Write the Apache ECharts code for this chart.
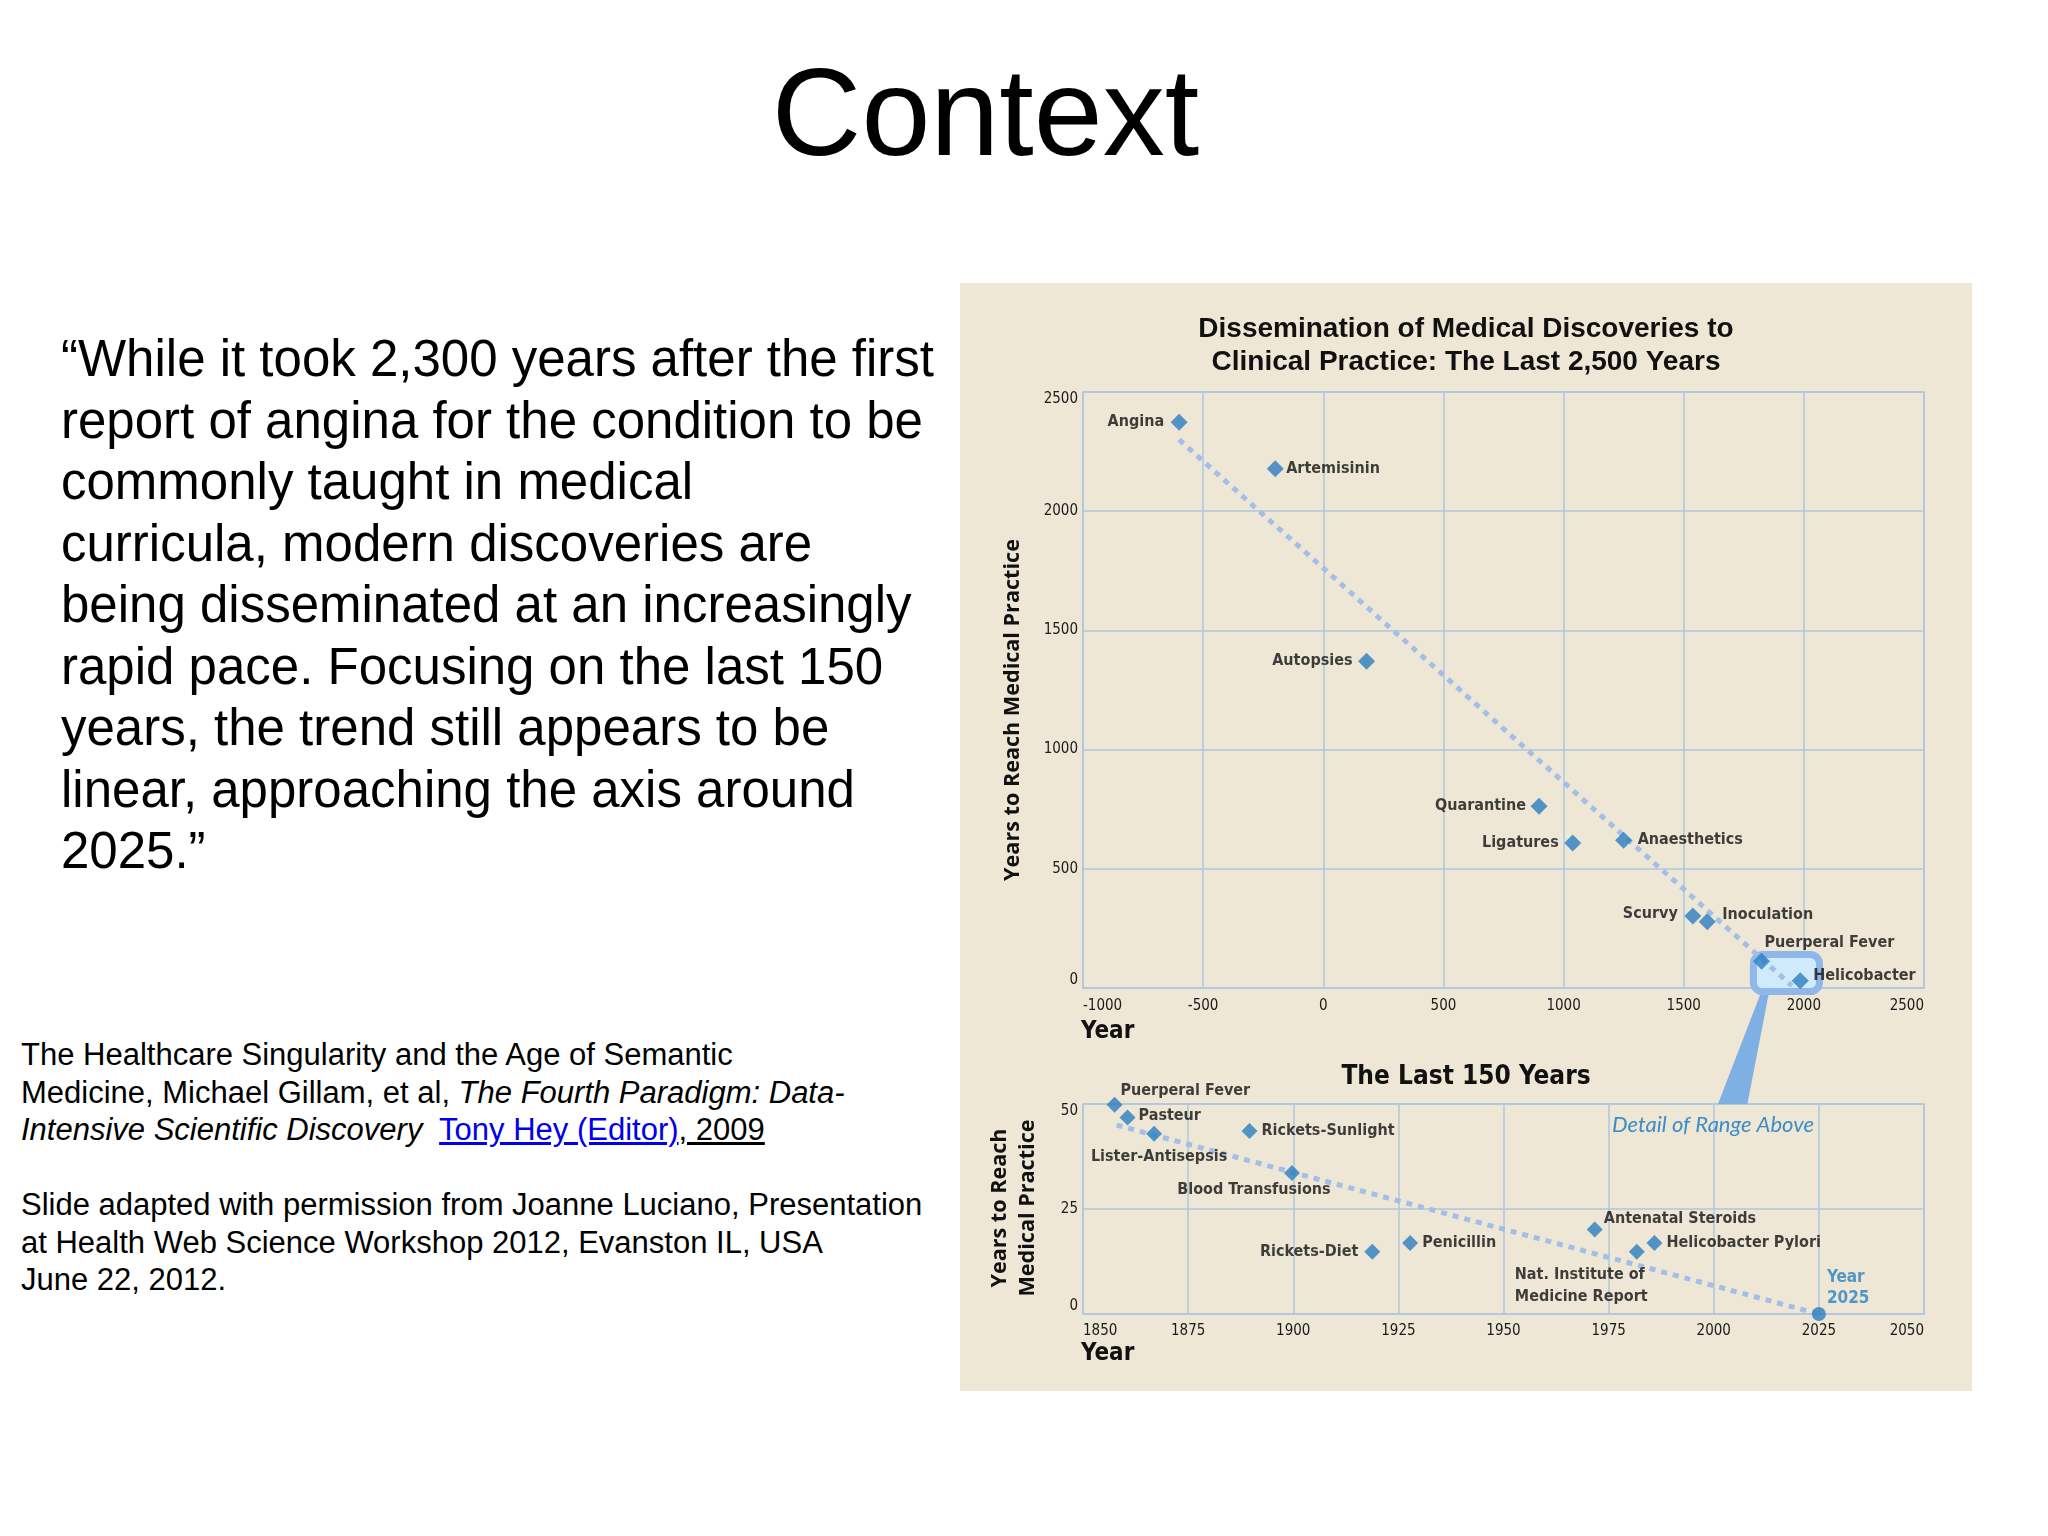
<!DOCTYPE html>
<html>
<head>
<meta charset="utf-8">
<script src="https://cdn.jsdelivr.net/npm/echarts@6/dist/echarts.min.js"></script>
<style>
  html, body { margin:0; padding:0; background:#ffffff; }
  body { width:2048px; height:1536px; position:relative; overflow:hidden; font-family:'Liberation Sans', Arial, sans-serif; color:#000; }
  #title { position:absolute; left:0; top:50px; width:1971px; text-align:center; font-size:124px; line-height:124px; }
  #quote { position:absolute; left:61px; top:328px; font-size:51px; line-height:61.5px; white-space:nowrap; }
  #cite { position:absolute; left:21px; top:1036px; font-size:31px; line-height:37.5px; white-space:nowrap; }
  #cite a { color:#0000ee; text-decoration:underline; }
  #cite .u { text-decoration:underline; }
  #chart { position:absolute; left:960px; top:283px; width:1012px; height:1108px; background:#eee7d6; }
</style>
</head>
<body>
<div id="title">Context</div>
<div id="quote">“While it took 2,300 years after the first<br>report of angina for the condition to be<br>commonly taught in medical<br>curricula, modern discoveries are<br>being disseminated at an increasingly<br>rapid pace. Focusing on the last 150<br>years, the trend still appears to be<br>linear, approaching the axis around<br>2025.”</div>
<div id="cite">The Healthcare Singularity and the Age of Semantic<br>Medicine, Michael Gillam, et al, <i>The Fourth Paradigm: Data-<br>Intensive Scientific Discovery</i>&nbsp; <a>Tony Hey (Editor)</a><span class="u">, 2009</span><br><br>Slide adapted with permission from Joanne Luciano, Presentation<br>at Health Web Science Workshop 2012, Evanston IL, USA<br>June 22, 2012.</div>
<div id="chart"></div>
<script>
// ---- data ----
var topNames = ['Angina','Artemisinin','Autopsies','Quarantine','Ligatures','Anaesthetics','Scurvy','Inoculation','Puerperal Fever','Helicobacter'];
var topYears = [-600, -200, 180, 898, 1038, 1250, 1538, 1598, 1824, 1985];
var topLag   = [2373, 2178, 1371, 762, 608, 620, 302, 278, 112, 30];
var topTrend = [[-600, 2300], [1950, 10]];
var topXTicks = [-1000, 2500, 500];
var topYTicks = [0, 2500, 500];
var highlightRange = [[1790, 2065], [-15, 140]];

var botNames = ['Puerperal Fever','Pasteur','Lister-Antisepsis','Rickets-Sunlight','Blood Transfusions','Rickets-Diet','Penicillin','Antenatal Steroids','Nat. Institute of\nMedicine Report','Helicobacter Pylori'];
var botYears = [1857.5, 1860.6, 1866.9, 1889.6, 1899.7, 1918.8, 1927.8, 1971.7, 1981.7, 1985.9];
var botLag   = [49.8, 46.8, 42.9, 43.6, 33.6, 14.8, 16.9, 20.1, 14.8, 16.9];
var botTrend = [[1858, 45], [2025, 0]];
var targetPoint = [[2025, 0]];
var targetLabel = 'Year\n2025';
var botXTicks = [1850, 2050, 25];
var botYTicks = [0, 50, 25];
var calloutTop = [[1822, -18], [1855, -18]];
var calloutBottom = [[2008, 50], [2001, 50]];

// ---- styles / label placement ----
var NARROW = "'Liberation Sans Narrow', 'Arial Narrow', 'DejaVu Sans Condensed', 'Roboto', sans-serif";
var gridColor = '#afc6dc';
var markColor = '#2a7ebf';
var trendColor = '#a3bee8';
// [dx, dy, align] relative to symbol centre
var topPlace = {
  'Angina':[-15,0,'right'], 'Artemisinin':[11,0,'left'], 'Autopsies':[-14,0,'right'],
  'Quarantine':[-13,0,'right'], 'Ligatures':[-14,0,'right'], 'Anaesthetics':[14,0,'left'],
  'Scurvy':[-15,-2,'right'], 'Inoculation':[15,-7,'left'], 'Puerperal Fever':[3,-18,'left'],
  'Helicobacter':[13,-5,'left']
};
var botPlace = {
  'Puerperal Fever':[6,-14,'left'], 'Pasteur':[11,-2,'left'], 'Lister-Antisepsis':[5,23,'center'],
  'Rickets-Sunlight':[12,0,'left'], 'Blood Transfusions':[-38,17,'center'], 'Rickets-Diet':[-14,0,'right'],
  'Penicillin':[12,0,'left'], 'Antenatal Steroids':[9,-11,'left'], 'Nat. Institute of\nMedicine Report':[-122,34,'left'],
  'Helicobacter Pylori':[12,0,'left']
};

function pts(names, xs, ys, place, size) {
  return names.map(function (n, i) {
    var p = place[n];
    var c = size / 2;
    return {
      name: n, value: [xs[i], ys[i]],
      label: { position: [c + p[0], c + p[1]], align: p[2] }
    };
  });
}

function axisLabelStyle(margin) {
  return { fontFamily: NARROW, fontSize: 15, color: '#1a1a1a', margin: margin,
    formatter: function (v) { return String(v); } };
}

var chart = echarts.init(document.getElementById('chart'), null, { renderer: 'canvas' });

var labelBase = {
  show: true, formatter: '{b}', fontFamily: NARROW, fontWeight: 'bold', fontSize: 16,
  color: '#111', verticalAlign: 'middle', lineHeight: 22, textBorderWidth: 0
};

var option = {
  animation: false,
  backgroundColor: 'transparent',
  grid: [
    { left: 123, top: 109, width: 841, height: 596, show: true, borderColor: gridColor, borderWidth: 1.5 },
    { left: 123, top: 821, width: 841, height: 210, show: true, borderColor: gridColor, borderWidth: 1.5 }
  ],
  xAxis: [
    { gridIndex: 0, type: 'value', min: topXTicks[0], max: topXTicks[1], interval: topXTicks[2],
      axisLine: { show: false }, axisTick: { show: false },
      splitLine: { show: true, lineStyle: { color: gridColor, width: 1.5 } },
      axisLabel: Object.assign(axisLabelStyle(11), { alignMinLabel: 'left', alignMaxLabel: 'right' }) },
    { gridIndex: 1, type: 'value', min: botXTicks[0], max: botXTicks[1], interval: botXTicks[2],
      axisLine: { show: false }, axisTick: { show: false },
      splitLine: { show: true, lineStyle: { color: gridColor, width: 1.5 } },
      axisLabel: Object.assign(axisLabelStyle(10), { alignMinLabel: 'left', alignMaxLabel: 'right' }) }
  ],
  yAxis: [
    { gridIndex: 0, type: 'value', min: topYTicks[0], max: topYTicks[1], interval: topYTicks[2],
      axisLine: { show: false }, axisTick: { show: false },
      splitLine: { show: true, lineStyle: { color: gridColor, width: 1.5 } },
      axisLabel: Object.assign(axisLabelStyle(5), { verticalAlignMinLabel: 'bottom', verticalAlignMaxLabel: 'top' }) },
    { gridIndex: 1, type: 'value', min: botYTicks[0], max: botYTicks[1], interval: botYTicks[2],
      axisLine: { show: false }, axisTick: { show: false },
      splitLine: { show: true, lineStyle: { color: gridColor, width: 1.5 } },
      axisLabel: Object.assign(axisLabelStyle(5), { verticalAlignMinLabel: 'bottom', verticalAlignMaxLabel: 'top' }) }
  ],
  series: [
    { type: 'custom', xAxisIndex: 0, yAxisIndex: 0, z: 1, clip: false,
      data: [[highlightRange[0][0], highlightRange[0][1], highlightRange[1][0], highlightRange[1][1]]],
      renderItem: function (params, api) {
        var a = api.coord([api.value(0), api.value(3)]);
        var b = api.coord([api.value(1), api.value(2)]);
        return { type: 'rect', shape: { x: a[0], y: a[1], width: b[0] - a[0], height: b[1] - a[1], r: 9 },
          style: { fill: '#cfeafb', stroke: '#8fb7e8', lineWidth: 7 } };
      } },
    { type: 'line', xAxisIndex: 0, yAxisIndex: 0, z: 2, data: topTrend, symbol: 'none', silent: true,
      lineStyle: { color: trendColor, width: 5, type: [6, 6], cap: 'butt' } },
    { type: 'scatter', xAxisIndex: 0, yAxisIndex: 0, z: 3, symbol: 'diamond', symbolSize: 17,
      itemStyle: { color: markColor },
      label: labelBase,
      data: pts(topNames, topYears, topLag, topPlace, 17) },
    { type: 'line', xAxisIndex: 1, yAxisIndex: 1, z: 2, data: botTrend, symbol: 'none', silent: true,
      lineStyle: { color: trendColor, width: 5, type: [6, 6], cap: 'butt' } },
    { type: 'scatter', xAxisIndex: 1, yAxisIndex: 1, z: 3, symbol: 'diamond', symbolSize: 16,
      itemStyle: { color: markColor },
      label: labelBase,
      data: pts(botNames, botYears, botLag, botPlace, 16) },
    { type: 'scatter', xAxisIndex: 1, yAxisIndex: 1, z: 3, symbol: 'circle', symbolSize: 14, clip: false,
      itemStyle: { color: markColor },
      label: Object.assign({}, labelBase, { formatter: targetLabel, color: '#2b82c2', fontSize: 17, position: [15, -19], align: 'left', lineHeight: 21 }),
      data: targetPoint }
  ]
};
chart.setOption(option);

// decorations positioned through the axes' scales
var t0 = chart.convertToPixel({ xAxisIndex: 0, yAxisIndex: 0 }, calloutTop[0]);
var t1 = chart.convertToPixel({ xAxisIndex: 0, yAxisIndex: 0 }, calloutTop[1]);
var b0 = chart.convertToPixel({ xAxisIndex: 1, yAxisIndex: 1 }, calloutBottom[0]);
var b1 = chart.convertToPixel({ xAxisIndex: 1, yAxisIndex: 1 }, calloutBottom[1]);

chart.setOption({
  graphic: [
    { type: 'polygon', z: 0, shape: { points: [t0, t1, b0, b1] }, style: { fill: '#7fb0e4' } },
    { type: 'text', x: 506, y: 63, z: 10, style: { text: 'Dissemination of Medical Discoveries to\nClinical Practice: The Last 2,500 Years',
      font: "bold 28px 'Liberation Sans', Arial, sans-serif", fill: '#111', align: 'center', verticalAlign: 'middle', lineHeight: 33 } },
    { type: 'text', x: 53, y: 427, rotation: Math.PI / 2, z: 10, style: { text: 'Years to Reach Medical Practice',
      font: "bold 21.6px 'Open Sans', sans-serif", fill: '#111', align: 'center', verticalAlign: 'middle' } },
    { type: 'text', x: 121, y: 749, z: 10, style: { text: 'Year', font: 'bold 24px ' + NARROW, fill: '#111', align: 'left', verticalAlign: 'middle' } },
    { type: 'text', x: 506, y: 794, z: 10, style: { text: 'The Last 150 Years', font: 'bold 26px ' + NARROW, fill: '#111', align: 'center', verticalAlign: 'middle' } },
    { type: 'text', x: 54, y: 925, rotation: Math.PI / 2, z: 10, style: { text: 'Years to Reach\nMedical Practice',
      font: "bold 21.6px 'Open Sans', sans-serif", fill: '#111', align: 'center', verticalAlign: 'middle', lineHeight: 28 } },
    { type: 'text', x: 121, y: 1071, z: 10, style: { text: 'Year', font: 'bold 24px ' + NARROW, fill: '#111', align: 'left', verticalAlign: 'middle' } },
    { type: 'text', x: 854, y: 842, z: 10, style: { text: 'Detail of Range Above', font: "italic 22px 'Lato', sans-serif", fill: '#3b8cc7', align: 'right', verticalAlign: 'middle' } }
  ]
});
</script>
</body>
</html>
